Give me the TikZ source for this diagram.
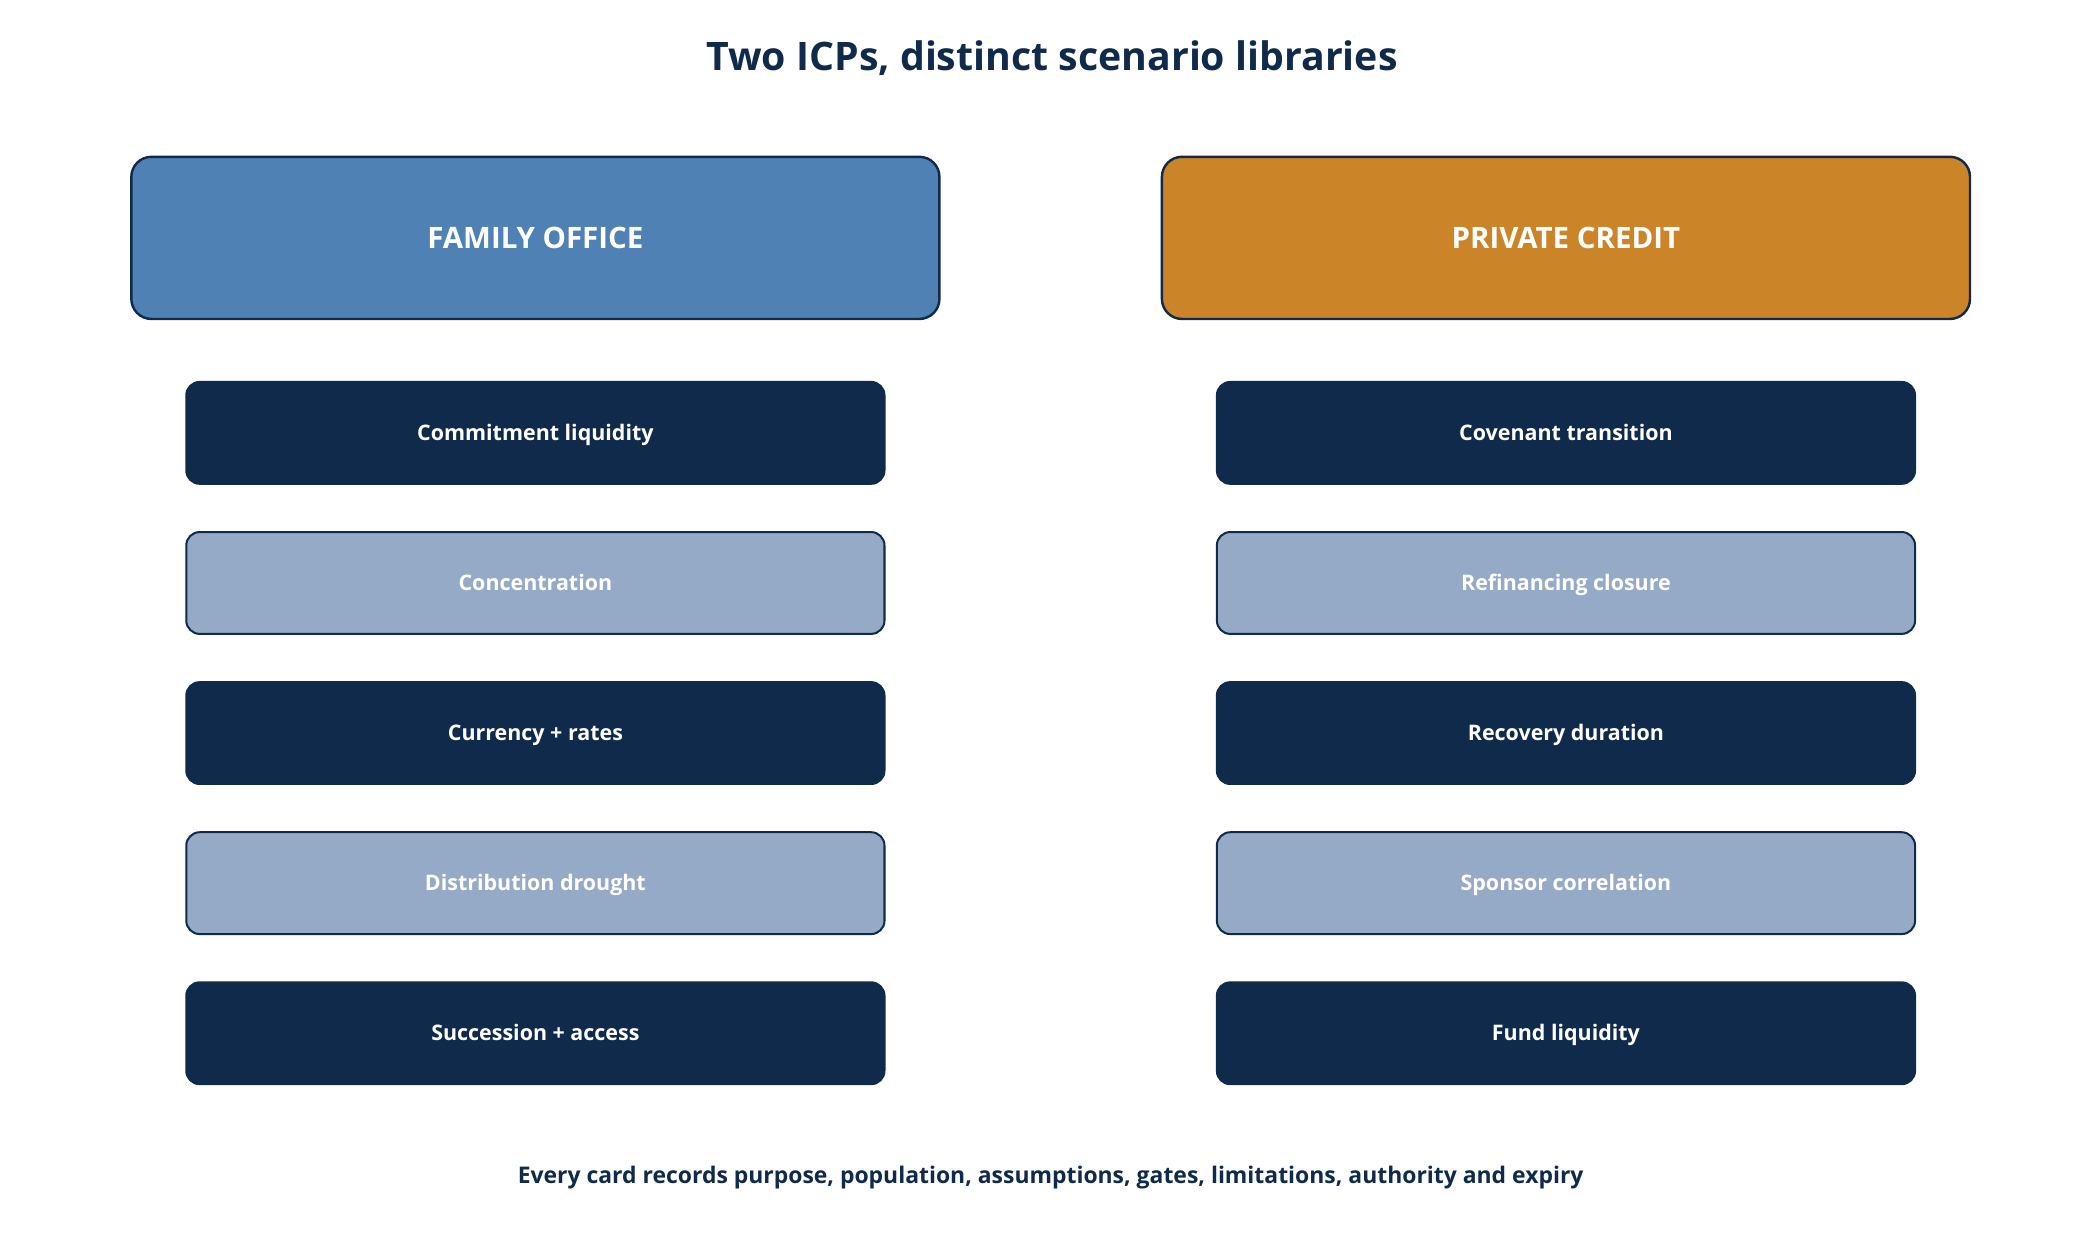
\documentclass[tikz,border=0pt]{standalone}
\usepackage{fontspec}
\setmainfont{Open Sans}
\definecolor{navy}{HTML}{0F2A4A}
\definecolor{fob}{HTML}{4F81B5}
\definecolor{pco}{HTML}{CB8428}
\definecolor{lite}{HTML}{95AAC7}
\begin{document}
\begin{tikzpicture}[x=1pt,y=-1pt,
  hdr/.style={draw=navy,line width=1.8pt,rounded corners=15pt,minimum width=603pt,minimum height=121pt,inner sep=0pt,text=white,text height=15.7pt,text depth=0pt,font=\fontsize{22}{26}\selectfont\bfseries},
  dark/.style={draw=navy,fill=navy,line width=1.5pt,rounded corners=10pt,minimum width=521pt,minimum height=76pt,inner sep=0pt,text=white,text height=11.4pt,text depth=0pt,font=\fontsize{16}{19}\selectfont\bfseries},
  light/.style={dark,fill=lite}]
\useasboundingbox (0,0) rectangle (1567,940.2);
\node[text=navy,font=\fontsize{29.3}{34}\selectfont\bfseries] (title) at (785,43) {Two ICPs, distinct scenario libraries};
\node[hdr,fill=fob] (fo) at (399.5,177.5) {FAMILY OFFICE};
\node[hdr,fill=pco] (pc) at (1168.5,177.5) {PRIVATE CREDIT};
\node[dark]  (l1) at (399.5,323) {Commitment liquidity};
\node[light] (l2) at (399.5,435) {Concentration};
\node[dark]  (l3) at (399.5,547) {Currency + rates};
\node[light] (l4) at (399.5,659) {Distribution drought};
\node[dark]  (l5) at (399.5,771) {Succession + access};
\node[dark]  (r1) at (1168.5,323) {Covenant transition};
\node[light] (r2) at (1168.5,435) {Refinancing closure};
\node[dark]  (r3) at (1168.5,547) {Recovery duration};
\node[light] (r4) at (1168.5,659) {Sponsor correlation};
\node[dark]  (r5) at (1168.5,771) {Fund liquidity};
\node[text=navy,font=\fontsize{17.1}{20}\selectfont\bfseries] (foot) at (784,879) {Every card records purpose, population, assumptions, gates, limitations, authority and expiry};
\end{tikzpicture}
\end{document}
